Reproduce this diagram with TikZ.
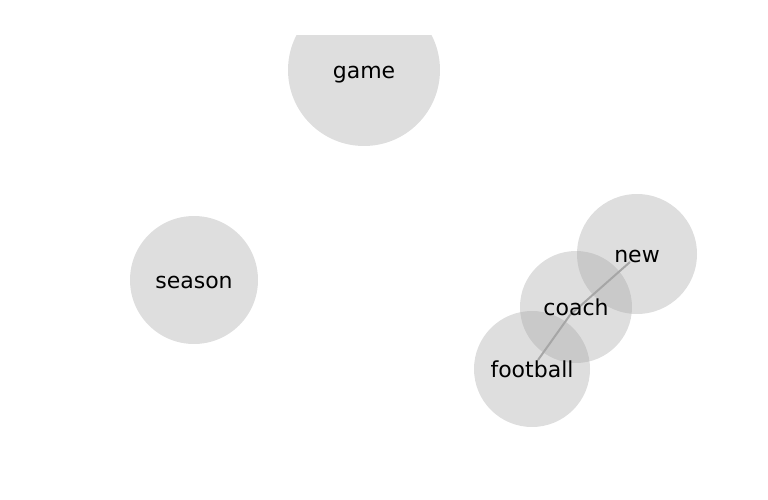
\documentclass[tikz,border=0pt]{standalone}
\usepackage{fontspec}
\setmainfont{DejaVu Sans}
\begin{document}
\begin{tikzpicture}[x=1pt,y=-1pt,
  bubble/.style={circle,fill=black!37,fill opacity=0.35,draw=none,inner sep=0pt},
  word/.style={font=\fontsize{22}{22}\selectfont,text=black,inner sep=0pt,anchor=mid},
  link/.style={draw=black!35,line width=2pt}]
\useasboundingbox (0,0) rectangle (768,500);
\begin{scope}
\clip (0,36) rectangle (768,500);
\node[bubble,minimum size=152pt] (gameb) at (364,70) {};
\end{scope}
\node[bubble,minimum size=128pt] (seasonb) at (194,280) {};
\node[bubble,minimum size=120pt] (newb) at (637,254) {};
\node[bubble,minimum size=112pt] (coachb) at (576,307) {};
\node[bubble,minimum size=116pt] (footballb) at (532,369) {};
\coordinate (pf) at (538,360);
\coordinate (pc) at (570,315);
\coordinate (pn) at (630,262);
\draw[link] (pf) -- (pc);
\draw[link] (pc) -- (pn);
\node[word] (game) at (364,76) {game};
\node[word] (season) at (194,286) {season};
\node[word] (new) at (637,260) {new};
\node[word] (coach) at (576,313) {coach};
\node[word] (football) at (532,375) {football};
\end{tikzpicture}
\end{document}
